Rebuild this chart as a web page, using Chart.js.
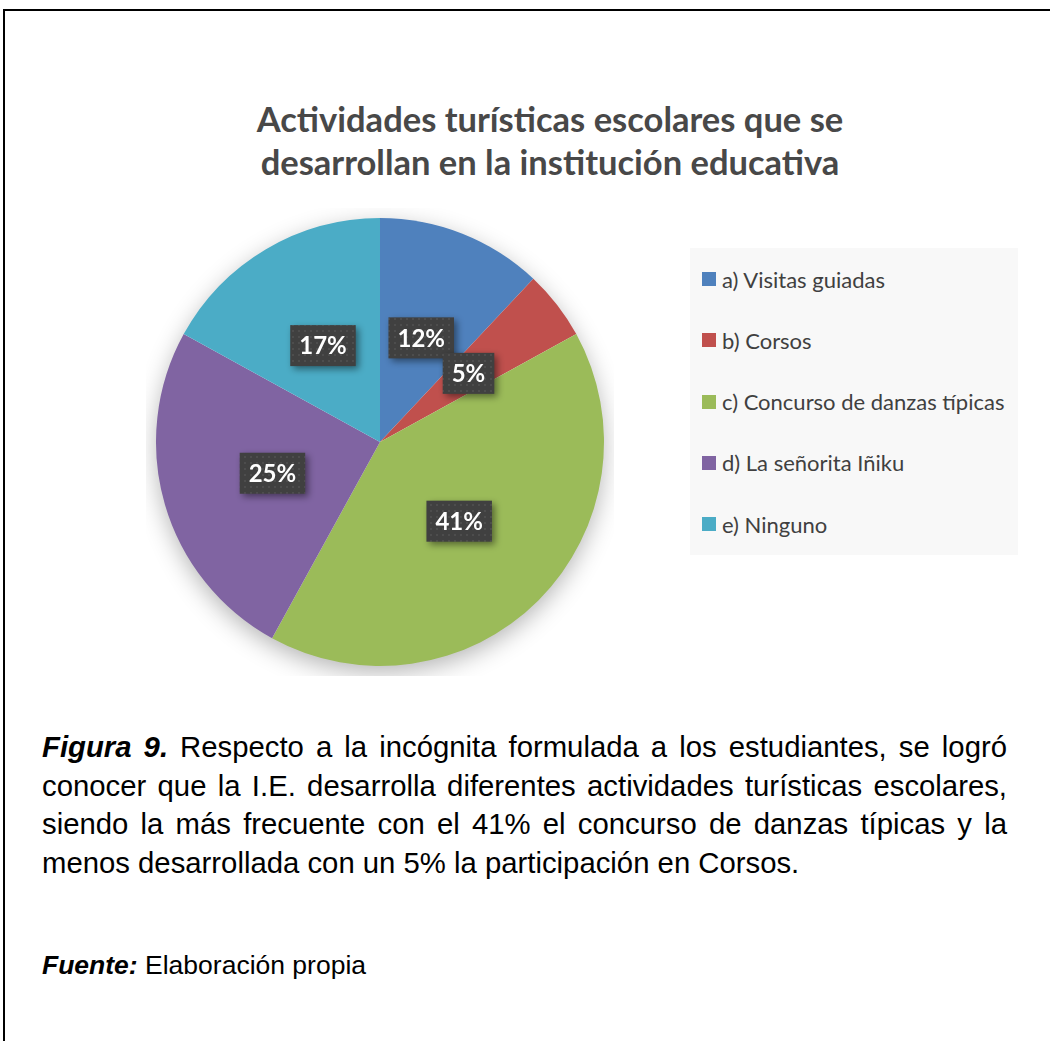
<!DOCTYPE html>
<html>
<head>
<meta charset="utf-8">
<script src="https://cdn.jsdelivr.net/npm/chart.js@4.4.1/dist/chart.umd.min.js"></script>
<style>
  html, body { margin: 0; padding: 0; background: #fff; width: 1050px; height: 1041px; overflow: hidden; }
  #frame { position: absolute; left: 3px; top: 9px; width: 1100px; height: 1100px; border: 2px solid #000; box-sizing: border-box; }
  #title { position: absolute; left: 100px; width: 900px; top: 97px; text-align: center;
           font-family: Lato, "Open Sans", sans-serif; font-weight: bold; font-size: 34.5px; line-height: 43px; color: #484848; }
  #chartWrap { position: absolute; left: 146px; top: 208px; width: 468px; height: 468px; }
  #legend { position: absolute; left: 690px; top: 248px; width: 328px; height: 307px; background: #f8f8f8; }
  .li { position: absolute; left: 12px; height: 26px; display: flex; align-items: center;
        font-family: Lato, "Open Sans", sans-serif; font-size: 22px; color: #404040; white-space: nowrap; }
  .sw { width: 14px; height: 14px; margin-right: 6px; flex: none; }
  #caption { position: absolute; left: 42px; top: 728px; width: 965px;
             font-family: "Liberation Sans", Arial, sans-serif; font-size: 29.3px; line-height: 38.5px; color: #000; }
  #caption .ln { text-align: justify; text-align-last: justify; white-space: nowrap; }
  #caption .ln.last { text-align-last: left; }
  #fuente { position: absolute; left: 42px; top: 946px; font-family: "Liberation Sans", Arial, sans-serif; font-size: 26.5px; line-height: 38px; color: #000; }
</style>
</head>
<body>
<div id="frame"></div>
<div id="title">Actividades turísticas escolares que se<br>desarrollan en la institución educativa</div>
<div id="chartWrap"><canvas id="c" width="468" height="468"></canvas></div>
<div id="legend"></div>
<div id="caption">
  <div class="ln"><b><i>Figura 9.</i></b> Respecto a la incógnita formulada a los estudiantes, se logró</div>
  <div class="ln">conocer que la I.E. desarrolla diferentes actividades turísticas escolares,</div>
  <div class="ln">siendo la más frecuente con el 41% el concurso de danzas típicas y la</div>
  <div class="ln last">menos desarrollada con un 5% la participación en Corsos.</div>
</div>
<div id="fuente"><b><i>Fuente:</i></b> Elaboración propia</div>
<script>
const categories = ["a) Visitas guiadas", "b) Corsos", "c) Concurso de danzas típicas", "d) La señorita Iñiku", "e) Ninguno"];
const values = [12, 5, 41, 25, 17];
const labelsText = ["12%", "5%", "41%", "25%", "17%"];
const colors = ["#4F81BD", "#C0504D", "#9BBB59", "#8064A2", "#4BACC6"];

// HTML legend
const leg = document.getElementById('legend');
categories.forEach((c, i) => {
  const d = document.createElement('div');
  d.className = 'li';
  d.style.top = (18 + i * 61.3) + 'px';
  d.innerHTML = '<span class="sw" style="background:' + colors[i] + '"></span><span></span>';
  d.lastChild.textContent = c;
  leg.appendChild(d);
});

// dotted pattern for label boxes
function makePattern(ctx) {
  const p = document.createElement('canvas');
  p.width = 6; p.height = 6;
  const pc = p.getContext('2d');
  pc.fillStyle = '#404040'; pc.fillRect(0, 0, 6, 6);
  pc.fillStyle = '#4d4d4d'; pc.fillRect(2, 2, 2, 2);
  return ctx.createPattern(p, 'repeat');
}

const shadowPlugin = {
  id: 'pieShadow',
  beforeDatasetsDraw(chart) {
    const meta = chart.getDatasetMeta(0);
    const a = meta.data[0];
    if (!a) return;
    const ctx = chart.ctx;
    ctx.save();
    ctx.shadowColor = 'rgba(0,0,0,0.3)';
    ctx.shadowBlur = 24;
    ctx.shadowOffsetY = 7;
    ctx.fillStyle = '#ffffff';
    ctx.beginPath();
    ctx.arc(a.x, a.y, a.outerRadius - 1, 0, Math.PI * 2);
    ctx.fill();
    ctx.restore();
  }
};

const labelPlugin = {
  id: 'boxLabels',
  afterDatasetsDraw(chart) {
    const ctx = chart.ctx;
    const meta = chart.getDatasetMeta(0);
    const pat = makePattern(ctx);
    ctx.save();
    ctx.font = 'bold 24px Lato, "Open Sans", sans-serif';
    meta.data.forEach((arc, i) => {
      const pos = arc.tooltipPosition();
      const t = labelsText[i];
      const w = ctx.measureText(t).width + 18;
      const h = 41;
      const x = pos.x - w / 2, y = pos.y - h / 2;
      ctx.save();
      ctx.shadowColor = 'rgba(0,0,0,0.45)';
      ctx.shadowBlur = 7;
      ctx.shadowOffsetX = 3;
      ctx.shadowOffsetY = 3;
      ctx.fillStyle = pat;
      ctx.fillRect(x, y, w, h);
      ctx.restore();
      ctx.fillStyle = '#ffffff';
      ctx.textAlign = 'center';
      ctx.textBaseline = 'middle';
      ctx.fillText(t, pos.x, pos.y + 1);
    });
    ctx.restore();
  }
};

new Chart(document.getElementById('c'), {
  type: 'pie',
  data: {
    labels: categories,
    datasets: [{ data: values, backgroundColor: colors, borderWidth: 0, hoverOffset: 0 }]
  },
  options: {
    responsive: false,
    animation: false,
    layout: { padding: 10 },
    plugins: { legend: { display: false }, tooltip: { enabled: false }, title: { display: false } }
  },
  plugins: [shadowPlugin, labelPlugin]
});
</script>
</body>
</html>
